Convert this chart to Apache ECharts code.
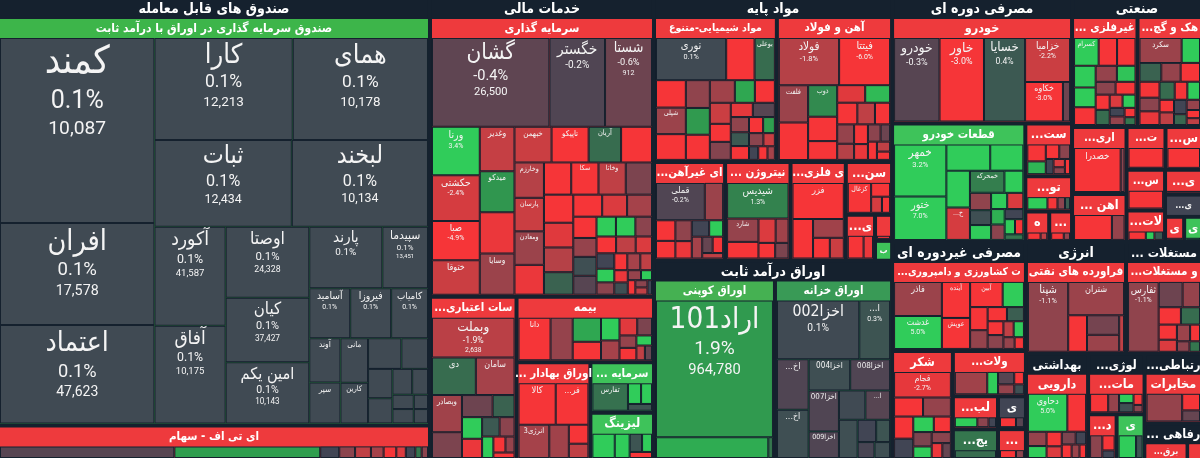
<!DOCTYPE html>
<html><head><meta charset="utf-8">
<script src="https://cdn.jsdelivr.net/npm/echarts@6/dist/echarts.min.js"></script>
<style>html,body{margin:0;padding:0;background:#15212e;}#c{width:1200px;height:458px;}</style>
</head><body><div id="c"></div>
<script>
// tile rows: [name, size, change %, price]  price: string -> show % and price, '' -> % only, null -> name only
const fundFixedTiles = [
 ['کمند',280,0.1,'10,087'],['افران',154,0.1,'17,578'],['اعتماد',149,0.1,'47,623'],['کارا',138,0.1,'12,213'],
 ['همای',135,0.1,'10,178'],['ثبات',117,0.1,'12,434'],['لبخند',116,0.1,'10,134'],['آکورد',69,0.1,'41,587'],
 ['آفاق',68,0.1,'10,175'],['اوصتا',58,0.1,'24,328'],['کیان',53,0.1,'37,427'],['امین یکم',50,0.1,'10,143'],
 ['پارند',44,0.1,''],['سپیدما',27.5,0.1,'13,451'],['فیروزا',20,0.1,''],['آسامید',20,0.1,''],['کامیاب',18,0.1,''],
 ['آوند',13.5,0.1,null],['سپر',12.5,0.1,null],['مانی',12,0.1,null],['کارین',11,0.1,null],
 ['',10,0.1,null],['',8,0.1,null],['',7,0.1,null],['',6,0.1,null],['',5,0.1,null],['',4,0.1,null],['',3,0.1,null],['',3,0.1,null],['',2,0.1,null],['',2,0.1,null]
];
const fundStockTiles = [['',55,-0.3,null],['',46,2.0,null],['',6,0,null],['',5,-2,null],['',5,-1,null],['',4,-3,null],['',4,-1.5,null],['',3,0,null],['',3,-2.5,null],['',2,-1,null],['',2,1,null]];
const investTiles = [
 ['گشان',95,-0.4,'26,500'],['خگستر',45,-0.2,''],['شستا',38,-0.6,'912'],['ورنا',21,3.4,''],['حکشتی',20,-2.4,''],['صبا',17,-4.9,''],
 ['ختوقا',15,-2.2,null],['وسایا',13,-1.3,null],['',13,-2.8,null],['میدکو',13,1.8,null],['وغدیر',14,-2.1,null],['تاپیکو',12,-3.5,null],
 ['خبهمن',12,-2.2,null],['آریان',10.5,0.8,null],['وخارزم',9.5,-1.8,null],['ومعادن',9,-1.3,null],['پارسان',9,-2.2,null],['وخاتا',8,-2,null],['سکا',8,-3.5,null],
 ['',7.7,-0.8,null],['',6.6,-1.8,null],['',10,-3.5,null],['',8,-3.2,null],['',8,-2.8,null],['',7.5,-3.5,null],['',6,0.6,null],['',5,-1.5,null],
 ['',6.6,-2.6,null],['',5.8,-3,null],['',4,-0.3,null],['',4,0.2,null],['',5,-2.5,null],['',4.5,-3,null],['',4,-1.2,null],['',3.5,3.5,null],
 ['',3.5,3.2,null],['',3,-2,null],['',3,-3,null],['',3,-1,null],['',2.5,0,null],['',2.5,-2.5,null],['',2.2,3,null],['',2,-1.5,null],
 ['',2,-3,null],['',2,-1,null],['',1.8,-2,null],['',1.5,0.2,null],['',1.5,-2.8,null],['',1.2,-1.2,null],['',1,-3,null],['',1,3.2,null],
 ['',0.8,-2,null],['',0.8,-1,null],['',0.6,0,null]
];
const bankTiles = [['وبملت',34,-1.9,'2,638'],['دی',17,0.8,null],['سامان',15,-1.5,null],['وبصادر',11.5,-1.4,null],['',8,-0.8,null],['',7,-0.6,null],['',5,0.6,null],['',4.5,3.3,null],['',4,-2.8,null],['',3.5,0.4,null],['',3,-1,null],['',2.5,3.2,null],['',2,-3,null],['',1.5,-1.2,null],['',1.2,-3,null]];
const insureTiles = [['دانا',13,-3.2,null],['',9,-1.2,null],['',6.5,2.2,null],['',5,-3,null],['',4,3,null],['',3.5,-1.5,null],['',3,-2.6,null],['',2.5,-0.8,null],['',2,-3,null],['',2,-1.2,null],['',1.5,3,null],['',1.2,-2,null],['',1,-0.5,null]];
const brokerTiles = [['کالا',16.5,-3.3,null],['فرابورس',14.5,-3.6,null],['انرژی3',11,-1.5,null],['',7,-1.4,null],['',4,-3,null],['',3,-2,null]];
const capitalTiles = [['تفارس',10.8,0.9,null],['',3,3,null],['',2.5,3.2,null],['',1.8,0.3,null]];
const leasingTiles = [['',6,3.1,null],['',4,3.4,null],['',2.5,0.3,null],['',2,3,null],['',1.5,-3,null]];
const chemTiles = [['نوری',23.5,0.1,''],['',9.5,-3.4,null],['بوعلی',6.8,0.8,null],['',6.5,-3.2,null],['شپلی',6.3,-1.3,null],['',6.1,-3.5,null],['',5.3,-1.1,null],['',5.1,1.9,null],['',4.8,-3.3,null],['',4.5,-1.4,null],['',3.6,-3.1,null],['',3.6,2.2,null],['',3.5,-2.2,null],['',3,-0.9,null],['',3,-3,null],['',2.5,-0.3,null],['',2.5,-2.7,null],['',2.2,-1.1,null],['',2,-3.2,null],['',2,0.4,null],['',1.8,-3,null],['',1.5,-1,null],['',1.5,2,null],['',1.2,-2.2,null],['',1,-3,null],['',1,0,null],['',0.8,-1.5,null]];
const steelTiles = [['فولاد',26,-1.8,''],['فیتتا',22,-6.0,''],['',10,-3.5,null],['فلفت',10,-1.3,null],['ذوب',8.4,1.5,null],['',6.5,-3.6,null],['',5,-3,null],['',4.5,-2.6,null],['',4,-3.4,null],['',4,2.6,null],['',3.5,-2,null],['',3,-1.2,null],['',3,-3,null],['',2.5,-3.1,null],['',2.5,-1.8,null],['',2,-1,null],['',2,-2.8,null],['',1.5,-3,null],['',1.5,-0.6,null],['',1.2,-2,null],['',1,-3,null]];
const nonferTiles = [['قملی',16,-0.2,''],['',6,-1.3,null],['',3.5,-3.2,null],['',3,-1.1,null],['',3,-3,null],['',2.5,0,null],['',2.5,-2.8,null],['',2,-1.5,null],['',2,3,null],['',1.5,-3,null],['',1.5,-0.5,null],['',1,-2,null]];
const nitroTiles = [['شیدیس',21,1.3,''],['شارد',7,-1.2,null],['',5,-3.2,null],['',4,-2.5,null],['',3,-1.4,null],['',2.5,-3,null],['',2,-0.8,null]];
const metalOreTiles = [['فزر',16,-3.1,null],['',7,-3.3,null],['',5,-1.4,null],['',3,-3,null],['',2.5,-2.2,null]];
const coalTiles = [['کزغال',8,-3.2,null],['',3,-3,null],['',2,-2.4,null],['',1.5,-3.3,null]];
const basicA = [['',5,-3.3,null],['',3,-2.8,null]];
const basicB = [['',2,-3,null]];
const basicC = [['',2,1.8,null]];
const couponTiles = [['اراد101',164,1.9,'964,780'],['',24,2.3,null],['',1,1,null]];
const treasuryTiles = [['اخزا002',46.8,0.1,''],['اخزا001',17.5,0.3,''],['اخزا006',15.4,-0.2,null],['اخزا005',14.8,0.2,null],['اخزا004',12.5,0.2,null],['اخزا007',12,-0.2,null],['اخزا008',12,-0.2,null],['اخزا009',7.8,-0.2,null],['اخزا010',7,-0.3,null],['',7.5,0.1,null],['',6.9,0.2,null],['',4,0,null],['',3,0.3,null],['',2.6,-0.1,null],['',2.4,0.2,null]];
const autoTiles = [['خودرو',36.5,-0.3,''],['خاور',35.7,-3.0,''],['خسایا',33,0.4,''],['خزامیا',19,-2.2,''],['خکاوه',14.4,-3.0,''],['',2.7,-0.6,null]];
const partsTiles = [['خمهر',26,3.2,''],['ختور',21.7,7.0,''],['',11,3.4,null],['',8.3,3.5,null],['',8.3,3.6,null],['خمحرکه',7.3,1.2,null],['خچرخش',7.3,-2.4,null],['',4,3,null],['',3.5,-1.1,null],['',3,3.2,null],['',3,0.2,null],['',2.5,-2.5,null],['',2.5,3,null],['',2,-1,null],['',2,2.4,null],['',1.8,0,null],['',1.5,3.3,null],['',1.2,-3,null],['',1,1,null]];
const rubberTiles = [['',4,-3.2,null],['',3,2.5,null],['',2.5,-3,null],['',2,-1,null],['',1.5,0,null],['',1.2,-2.5,null],['',1,-3,null],['',1,-1,null]];
const hotelTiles = [['',4,3,null],['',2,-3,null],['',1.5,-1,null],['',1,0.5,null]];
const cycA = [['',2,-3,null],['',1,-2,null]];
const cycB = [['',2,-3.2,null],['',1,-1.2,null]];
const nonMetalTiles = [['کسرام',8,3.4,null],['',6,-3.3,null],['',6,-3,null],['',5.5,3.2,null],['',5,3.5,null],['',4.5,-3.2,null],['',4,-1.2,null],['',3.5,2.8,null],['',3,-3,null],['',3,-1,null],['',2.5,0.8,null],['',2.5,-3.3,null],['',2,3,null],['',2,-2.5,null],['',1.5,-1.2,null],['',1.5,0,null],['',1.2,-3,null],['',1,1,null]];
const cementTiles = [['سکرد',11.5,-1.3,null],['',5,3,null],['',4.5,0.6,null],['',4,-3.3,null],['',4,-1.2,null],['',3.5,-3,null],['',3,0.8,null],['',3,-2.8,null],['',3,-1,null],['',2.5,3.2,null],['',2.5,-3.1,null],['',2,0,null],['',2,-2,null],['',2,-3,null],['',1.5,-1.2,null],['',1.5,0.7,null],['',1.2,-3,null],['',1,-2,null]];
const indTiles = [['خصدرا',18,-3.2,null],['',1.5,-1,null]];
const fabTiles = [['',4,-3.2,null]];
const ceramicTiles = [['',4,-3.1,null]];
const railTiles = [['',6,-3.2,null],['',2,-1.2,null]];
const indA = [['',4,-3.3,null]];
const indB = [['',2,-3,null],['',1,0.4,null],['',1,3,null]];
const indC = [['',2,-3.2,null],['',1,-1.3,null]];
const indD = [['',2,-0.5,null]];
const indE = [['',1,-3,null]];
const indF = [['',1,3,null]];
const agriTiles = [['فاذر',14.9,-1.3,null],['غدشت',14.4,5.0,''],['آینده',9.3,-3.1,null],['عوپش',8,-3.2,null],['آبین',7.5,-3,null],['',4.9,3.2,null],['',3.7,-3.3,null],['',3,-1.2,null],['',2.5,-3,null],['',2.2,0.5,null],['',2,-1,null],['',2,-3,null],['',1.5,3,null],['',1.5,-2,null],['',1.2,-1.2,null],['',1,-3,null]];
const sugarTiles = [['قجام',13.7,-2.7,''],['',5.2,-3.3,null],['',5,-1.2,null],['',4,-3.2,null],['',3.5,0,null],['',3,3.1,null],['',2.5,-0.8,null],['',2.5,-3,null],['',2,-1,null],['',2,3,null],['',1.5,-2.8,null],['',1.2,-0.5,null]];
const foodTiles = [['',9,-1.4,null],['',3,3,null],['',2.5,-0.3,null],['',2,-1.2,null],['',1.5,-3,null],['',1.2,0.2,null]];
const dairyTiles = [['',3,3.2,null],['',1.5,-1,null],['',1,0,null]];
const ncA = [['',2,-3,null],['',1,-0.3,null]];
const ncB = [['',2,0.8,null]];
const ncC = [['',2,-3.2,null],['',1,-1,null]];
const oilTiles = [['شپنا',23.7,-1.1,''],['شتران',15.7,-1.3,null],['',5.8,-3.2,null],['',5.3,-0.7,null],['',4.6,-1.3,null],['',1.5,-2,null]];
const realTiles = [['ثفارس',19.4,-1.1,''],['',5.5,-0.6,null],['',4,-1.2,null],['',3.5,-3.2,null],['',3,0.8,null],['',2.5,-3,null],['',2,-1.3,null],['',2,-2.5,null],['',1.5,-3,null],['',1.2,-1,null],['',1,1,null]];
const pharmaTiles = [['دحاوی',16.8,5.0,''],['',8,-3.3,null],['',3,-1.2,null],['',2.5,-3,null],['',2.5,3,null],['',2,-0.8,null],['',2,-2.5,null],['',1.5,-3,null],['',1.5,0,null],['',1.2,-1.3,null],['',1,-3,null]];
const techA = [['',5,-3.2,null],['',3,-1.2,null],['',2,0.2,null],['',2,3,null],['',1.5,-3,null],['',1,-1,null]];
const techB = [['',4,3.2,null],['',1.5,0.3,null]];
const techC = [['',3,-1,null],['',2,-3,null],['',1,0,null]];
const telecomTiles = [['',10,-1.2,null],['',3,-3.2,null],['',2,-0.5,null]];
const welfareA = [['',2,-3,null]];
const welfareB = [['',1,-3,null]];

const sectorNames = ['صندوق های قابل معامله','خدمات مالی','مواد پایه','اوراق درآمد ثابت','مصرفی دوره ای','صنعتی','مصرفی غیردوره ای','انرژی','مستغلات ...','بهداشتی','لوژی...','رتباطی...','رفاهی ...'];
const sectorSizes = [1996,1035,625,475,439,317,292,112,85,66,60,40,21];

const RED='#ee3a3d', GRN='#3ec35a', ETFG='#3db54a', COUP='#45b152', TREAS='#399a56', DKG='#35764e', GRY='#414554';
// [sector index, industry name, size, header colour, tiles]
const industries = [
 [0,'صندوق سرمایه گذاری در اوراق با درآمد ثابت',1840,ETFG,fundFixedTiles],
 [0,'ای تی اف - سهام',156,RED,fundStockTiles],
 [1,'سرمایه گذاری',625,RED,investTiles],
 [1,'سات اعتباری...',141,RED,bankTiles],
 [1,'بیمه',90,RED,insureTiles],
 [1,'اوراق بهادار ...',72,RED,brokerTiles],
 [1,'سرمایه ...',32,GRN,capitalTiles],
 [1,'لیزینگ',30,GRN,leasingTiles],
 [2,'مواد شیمیایی-متنوع',160,RED,chemTiles],
 [2,'آهن و فولاد',150,RED,steelTiles],
 [2,'ای غیرآهن...',63,RED,nonferTiles],
 [2,'نیتروژن ...',58,RED,nitroTiles],
 [2,'ی فلزی...',49,RED,metalOreTiles],
 [2,'سنگ ...',22,RED,coalTiles],
 [2,'ی...',12,RED,basicA],
 [2,'ی...',4,RED,basicB],
 [2,'ب',3,GRN,basicC],
 [3,'اوراق کوپنی',219,COUP,couponTiles],
 [3,'اوراق خزانه',212,TREAS,treasuryTiles],
 [4,'خودرو',182,RED,autoTiles],
 [4,'قطعات خودرو',150,GRN,partsTiles],
 [4,'ستیک...',23.4,RED,rubberTiles],
 [4,'توران...',15.7,RED,hotelTiles],
 [4,'ه...',6.9,RED,cycA],
 [4,'...',6.6,RED,cycB],
 [5,'غیرفلزی ...',69,RED,nonMetalTiles],
 [5,'هک و گچ...',68,RED,cementTiles],
 [5,'اری صنعتی...',35,RED,indTiles],
 [5,'ت فلزی...',16,RED,fabTiles],
 [5,'سرامیک ...',15,RED,ceramicTiles],
 [5,'اهن ...',25,RED,railTiles],
 [5,'سی...',15,RED,indA],
 [5,'لات...',11.6,RED,indB],
 [5,'ی...',8.8,RED,indC],
 [5,'ی...',7.8,GRY,indD],
 [5,'ی',4.6,RED,indE],
 [5,'ی',4.3,GRN,indF],
 [6,'ت کشاورزی و دامپروری...',109,RED,agriTiles],
 [6,'شکر',60,RED,sugarTiles],
 [6,'ولات غذایی...',30,RED,foodTiles],
 [6,'لبنی ...',13.4,RED,dairyTiles],
 [6,'ی...',8.3,GRY,ncA],
 [6,'یجات...',12.6,DKG,ncB],
 [6,'...',7.8,RED,ncC],
 [7,'فراورده های نفتی',100,RED,oilTiles],
 [8,'و مستغلات...',100,RED,realTiles],
 [9,'دارویی',100,RED,pharmaTiles],
 [10,'مات...',18,RED,techA],
 [10,'یزات...',9.8,GRN,techB],
 [10,'د...',10,RED,techC],
 [11,'مخابرات',100,RED,telecomTiles],
 [12,'برق...',7,RED,welfareA],
 [12,'ع...',2.4,RED,welfareB]
];

const BG = '#15212e';
const FONT = "Roboto, 'DejaVu Sans', sans-serif";
const HFONT = "'DejaVu Sans Condensed', 'DejaVu Sans', sans-serif";
const RLE = '\u202B', PDF = '\u202C';
const stops = [[-3,[246,53,56]],[-2,[191,64,69]],[-1,[139,68,78]],[0,[65,69,84]],[1,[53,118,78]],[2,[47,158,79]],[3,[48,204,90]]];
function chgColor(c){
  c = Math.max(-3, Math.min(3, c));
  for (let i = 0; i < stops.length - 1; i++) {
    const a = stops[i], b = stops[i+1];
    if (c <= b[0]) { const t = (c - a[0]) / (b[0] - a[0]); return 'rgb(' + a[1].map((v,k)=>Math.round(v + (b[1][k]-v)*t)).join(',') + ')'; }
  }
  return 'rgb(48,204,90)';
}
function rtl(s){ return RLE + s + PDF; }
function leafNode(t){
  const name = t[0], w = t[1], chg = t[2], price = t[3];
  const node = { name: name ? rtl(name) : '', value: w, itemStyle: { color: chgColor(chg) } };
  if (!name) { node.label = { show: false }; return node; }
  const side = Math.sqrt(w) * 10;
  let fs = Math.min(2.3 * Math.sqrt(w), 40, side * 0.9 / (0.4 * name.length + 0.3));
  fs = Math.max(fs, 7);
  const pf = Math.max(fs * 0.65, 7), vf = Math.max(fs * 0.5, 6);
  const lines = ['{n|' + rtl(name) + '}'];
  if (price !== null) { lines.push('{p|' + chg.toFixed(1) + '%}'); if (price) lines.push('{v|' + price + '}'); }
  node.label = { formatter: lines.join('\n'), rich: {
    n: { fontSize: fs, lineHeight: Math.round(fs * 1.2), fontFamily: HFONT },
    p: { fontSize: pf, lineHeight: Math.round(pf * 1.25) },
    v: { fontSize: vf, lineHeight: Math.round(vf * 1.25) } } };
  return node;
}
function headFont(name, size){
  if (size > 500) return 12;
  if (name.length <= 8) return 12.5;
  if (name.length > 16) return 10.5;
  return 11.5;
}
const data = sectorNames.map((sn, i) => ({
  name: rtl(sn), value: sectorSizes[i],
  upperLabel: { overflow: 'none', fontSize: sectorSizes[i] < 100 ? 12.5 : 14 },
  children: industries.filter(r => r[0] === i).map(r => ({
    name: rtl(r[1]), value: r[2], itemStyle: { borderColor: r[3], color: r[3] },
    upperLabel: { fontSize: headFont(r[1], r[2]), overflow: r[2] >= 40 ? 'none' : 'truncate' },
    label: { fontSize: 9, fontWeight: 'bold', fontFamily: HFONT },
    children: r[4].map(leafNode)
  }))
}));

const chart = echarts.init(document.getElementById('c'));
chart.setOption({
  backgroundColor: BG,
  animation: false,
  textStyle: { fontFamily: FONT },
  series: [{
    type: 'treemap', left: 0, top: 0, right: 0, bottom: 0,
    roam: false, nodeClick: false, drillDownIcon: '', squareRatio: 0.95,
    breadcrumb: { show: false }, visibleMin: 1,
    itemStyle: { borderColor: BG, borderWidth: 0, gapWidth: 0 },
    label: { show: true, color: '#f4f4f4', fontFamily: FONT, padding: 1, position: 'inside' },
    emphasis: { disabled: true },
    levels: [
      { itemStyle: { borderWidth: 0, gapWidth: 4, borderColor: BG } },
      { itemStyle: { borderWidth: 0, gapWidth: 4, borderColor: BG },
        upperLabel: { show: true, height: 19, color: '#ffffff', fontSize: 14, fontWeight: 'bold', fontFamily: HFONT, position: 'inside', padding: 0 } },
      { itemStyle: { borderWidth: 0, gapWidth: 0 },
        upperLabel: { show: true, height: 19, color: '#ffffff', fontSize: 11.5, fontWeight: 'bold', fontFamily: HFONT, position: 'inside', padding: 0 } },
      { itemStyle: { borderWidth: 1, borderColor: BG, gapWidth: 0 } }
    ],
    data: data
  }]
});
</script></body></html>
